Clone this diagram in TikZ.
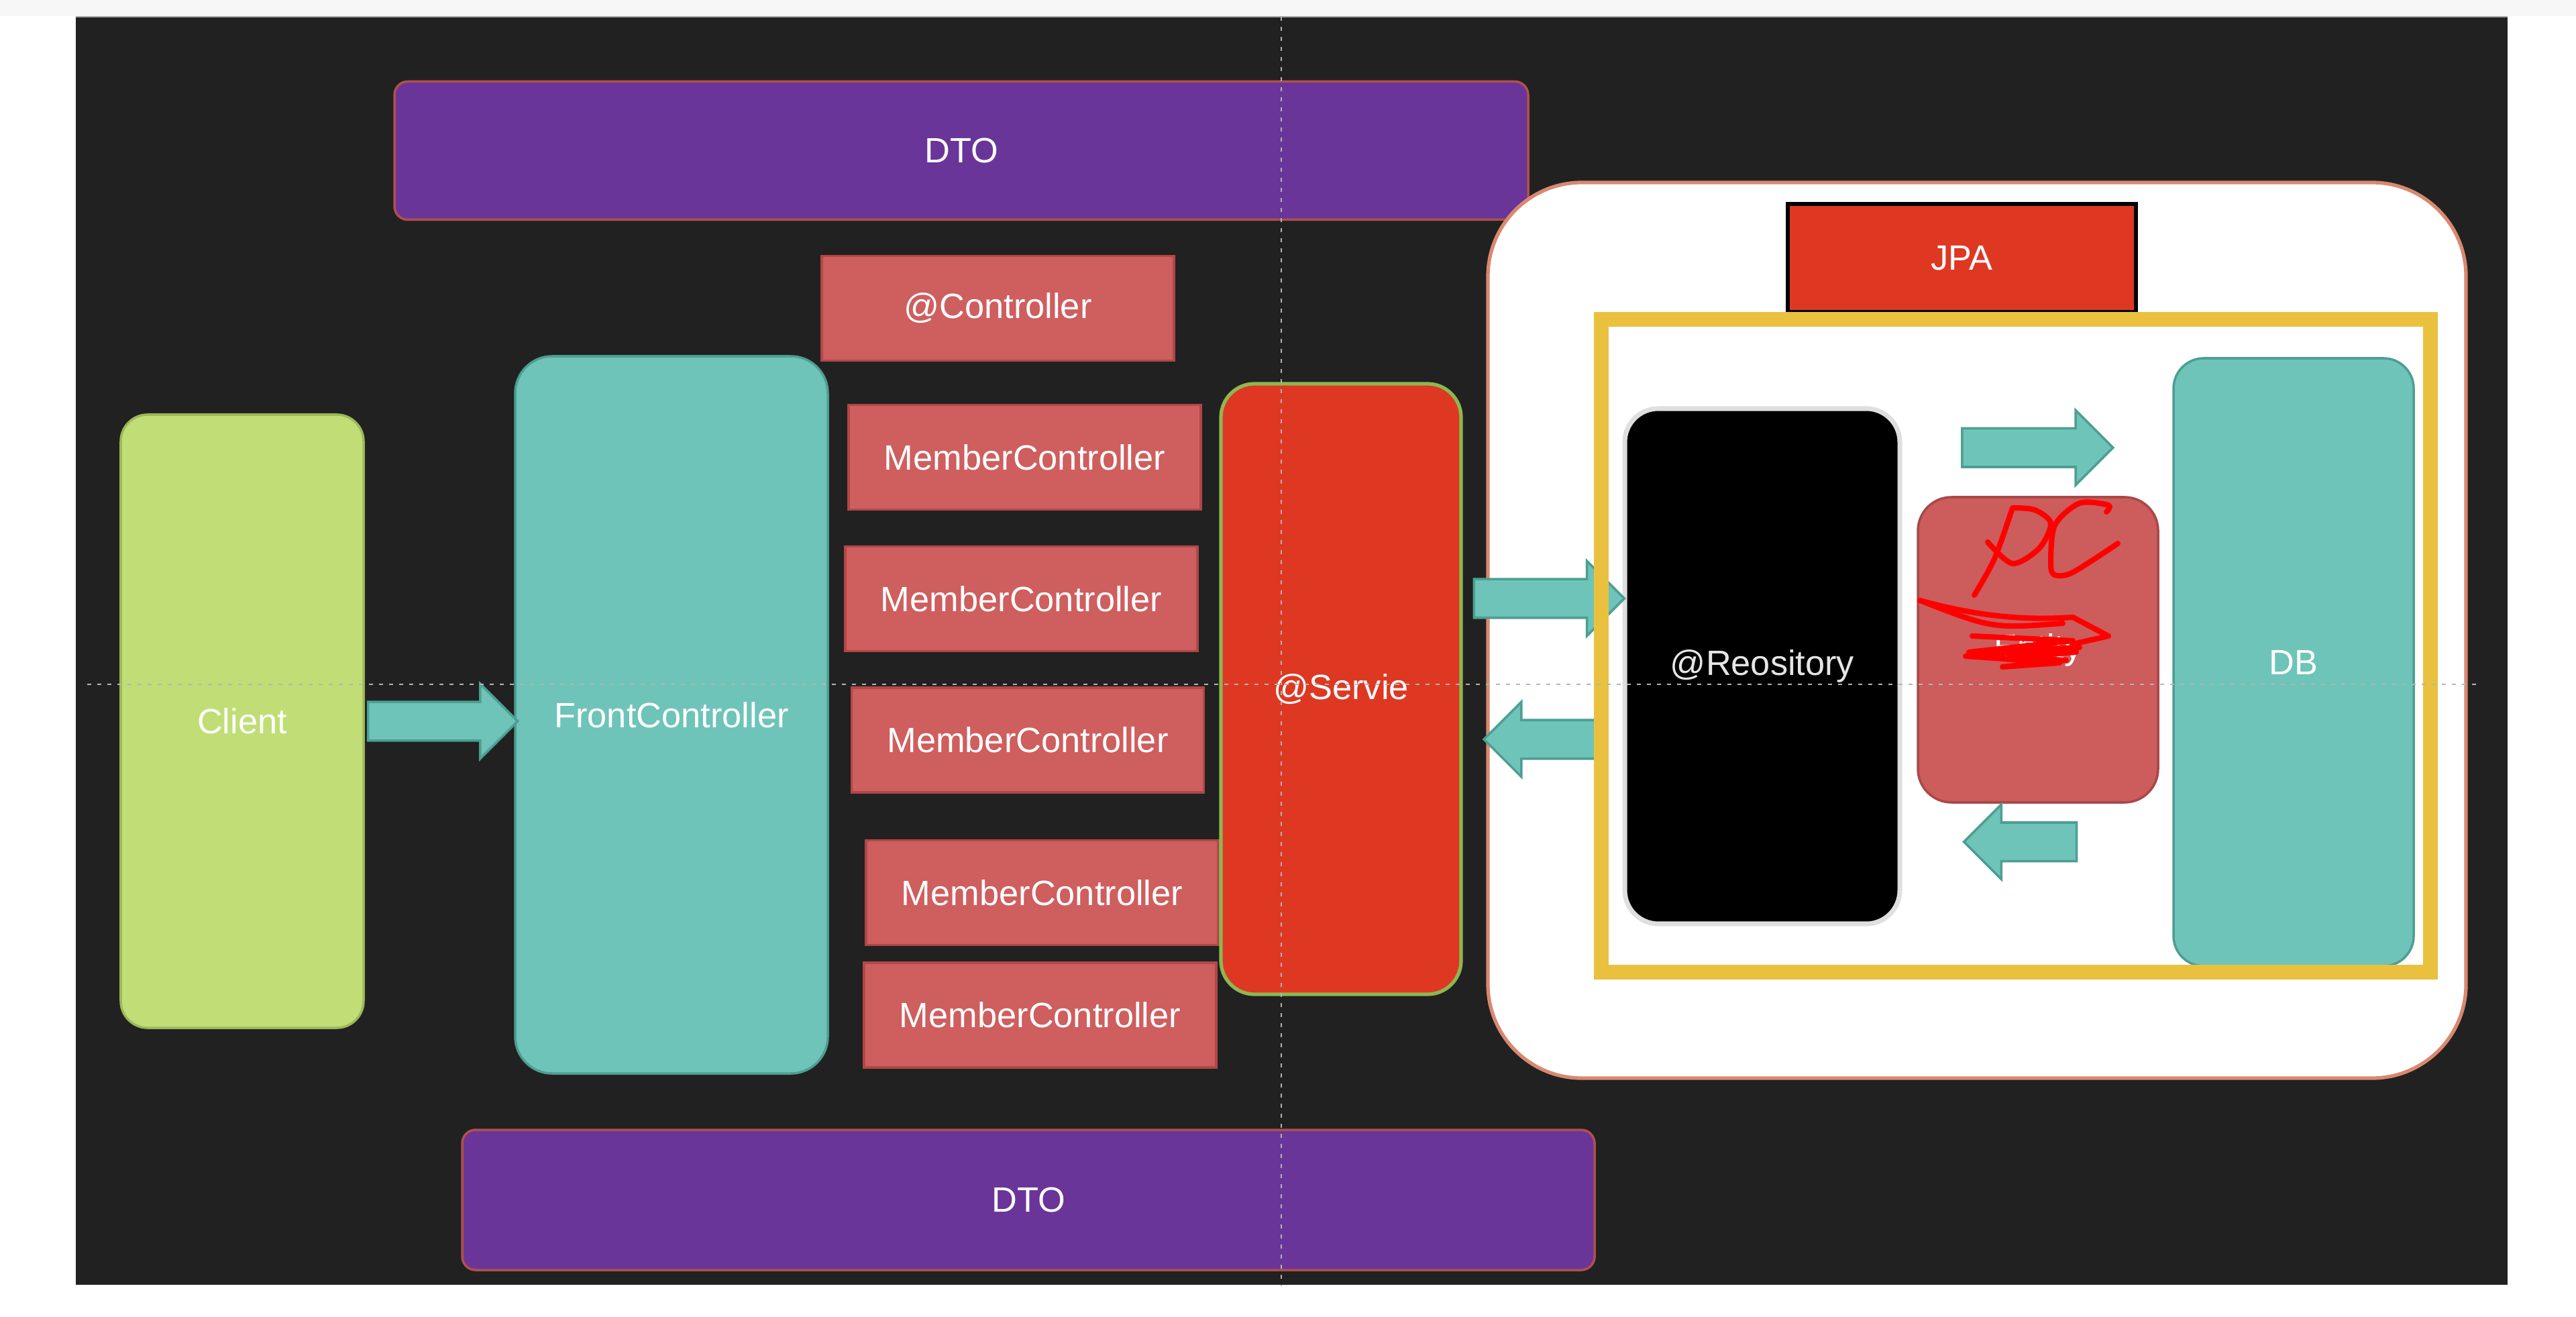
\documentclass[tikz,border=0pt]{standalone}
\usepackage{fontspec}
\setmainfont{Liberation Sans}
\usetikzlibrary{arrows.meta,positioning,calc,shapes.arrows}
\definecolor{bgdark}{HTML}{212121}
\definecolor{dtopurple}{HTML}{6A3599}
\definecolor{dtoedge}{HTML}{B0504A}
\definecolor{ctrlred}{HTML}{CF5E5E}
\definecolor{ctrledge}{HTML}{B04848}
\definecolor{clientgreen}{HTML}{C0DE75}
\definecolor{clientedge}{HTML}{9CB85A}
\definecolor{tealfill}{HTML}{6EC4B8}
\definecolor{tealedge}{HTML}{4E9E92}
\definecolor{svcred}{HTML}{DE3823}
\definecolor{svcedge}{HTML}{8DB750}
\definecolor{jpaedge}{HTML}{D98870}
\definecolor{frameyellow}{HTML}{EAC13F}
\definecolor{entred}{HTML}{CD5C5C}
\definecolor{entedge}{HTML}{A84848}
\definecolor{guidegray}{HTML}{B4B4B4}

\begin{document}
\begin{tikzpicture}[font=\fontsize{14.9}{18}\selectfont, text=white,
  box/.style={draw, line width=1pt, inner sep=0pt, align=center},
  dto/.style={box, fill=dtopurple, draw=dtoedge, rounded corners=2mm, minimum width=16.9cm, minimum height=2.06cm},
  ctrl/.style={box, fill=ctrlred, draw=ctrledge, minimum width=5.25cm, minimum height=1.56cm},
  tall/.style={box, minimum width=3.6cm, rounded corners=5mm},
  blk/.style={single arrow, draw=tealedge, fill=tealfill, line width=1pt, inner sep=2.7mm, single arrow head extend=2.7mm, minimum width=1.08cm},
  blkl/.style={blk, shape border rotate=180},
  scrib/.style={draw=red, line width=2.3pt, line cap=round, line join=round},
  guideline/.style={draw=guidegray, line width=0.5pt, dash pattern=on 0.6mm off 0.9mm}]
\useasboundingbox (0,0) rectangle (38.4,19.62);
\fill[white] (0,0) rectangle (38.4,19.62);
\fill[gray!6] (0,19.38) rectangle (38.4,19.62);
\fill[bgdark] (1.13,0.47) rectangle (37.38,19.37);
\draw[gray!70, line width=0.6pt] (1.13,19.37) -- (37.38,19.37);

\node[dto] (dtotop) at (14.33,17.375) {DTO};
\node[dto, minimum width=16.88cm, minimum height=2.09cm] (dtobot) at (15.33,1.735) {DTO};
\node[ctrl] (ctrl) at (14.875,15.025) {@Controller};
\node[ctrl] (mc1) at (15.275,12.805) {MemberController};
\node[ctrl] (mc2) at (15.225,10.695) {MemberController};
\node[ctrl] (mc3) at (15.32,8.59) {MemberController};
\node[ctrl] (mc4) at (15.535,6.315) {MemberController};
\node[ctrl] (mc5) at (15.505,4.49) {MemberController};
\node[tall, fill=clientgreen, draw=clientedge, minimum width=3.62cm, minimum height=9.14cm, rounded corners=4mm] (client) at (3.61,8.87) {Client};
\node[tall, fill=tealfill, draw=tealedge, minimum width=4.66cm, minimum height=10.69cm, rounded corners=5.5mm] (front) at (10.01,8.965) {FrontController};
\node[tall, fill=svcred, draw=svcedge, line width=1.5pt, minimum width=3.58cm, minimum height=9.1cm] (svc) at (19.99,9.35) {@Servie};

\node[box, fill=white, draw=jpaedge, line width=1.5pt, rounded corners=14mm, minimum width=14.58cm, minimum height=13.35cm] (jpabox) at (29.47,10.225) {};
\node[box, fill=svcred, draw=black, line width=1.5pt, minimum width=5.19cm, minimum height=1.61cm] (jpa) at (29.245,15.775) {JPA};
\node[tall, fill=black, draw=gray!25, line width=2pt, text=white!90!black, minimum width=4.1cm, minimum height=7.68cm] (repo) at (26.27,9.69) {@Reository};
\node[tall, fill=entred, draw=entedge, minimum width=3.58cm, minimum height=4.55cm] (entity) at (30.38,9.935) {Entity};
\node[tall, fill=tealfill, draw=tealedge, minimum width=3.58cm, minimum height=9.06cm, rounded corners=4.5mm] (db) at (34.19,9.75) {DB};

\node[blk, anchor=tail, minimum height=2.23cm] (c2f) at ($(client.east)+(0.03,0)$) {};
\node[blk, anchor=tail, minimum height=2.24cm] (s2r) at ($(svc.east)+(0.15,1.35)$) {};
\node[blkl, anchor=tip, minimum height=1.8cm] (r2s) at ($(svc.east)+(0.29,-0.75)$) {};
\node[draw=frameyellow, line width=2.2mm, inner sep=0pt, minimum width=12.36cm, minimum height=9.73cm] (jpaframe) at (30.05,9.995) {};
\node[blk, anchor=tail, minimum height=2.25cm] (r2d) at ($(entity.north)+(-1.15,0.72)$) {};
\node[blkl, anchor=tip, minimum height=1.68cm] (d2r) at ($(entity.south)+(-1.13,-0.57)$) {};

\draw[scrib] plot[smooth] coordinates {(29.43,10.75) (29.73,11.29) (30.00,12.05)};
\draw[scrib] plot[smooth] coordinates {(30.00,12.05) (30.33,12.02) (30.57,11.82) (30.40,11.45) (30.00,11.22) (29.63,11.54)};
\draw[scrib] plot[smooth] coordinates {(31.40,11.99) (31.43,12.09) (31.00,12.12) (30.63,11.79) (30.57,11.22) (30.63,11.05) (30.90,11.09) (31.57,11.52)};
\draw[scrib] (28.62,10.67) .. controls (29.60,10.40) and (30.30,10.38) .. (30.90,10.42) -- (31.43,10.14) -- (30.90,10.02);
\draw[scrib] (28.62,10.67) .. controls (29.70,10.25) .. (30.75,10.33);
\draw[scrib] (29.40,10.14) -- (30.90,10.07) -- (29.35,9.90) -- (31.00,9.97) -- (29.30,9.84) -- (30.70,9.74) -- (29.85,9.68) -- (30.80,9.78) -- (29.95,9.82) -- (30.95,9.90);

\draw[guideline] (19.10,19.37) -- (19.10,0.45);
\draw[guideline] (1.3,9.42) -- (36.95,9.42);
\end{tikzpicture}
\end{document}
